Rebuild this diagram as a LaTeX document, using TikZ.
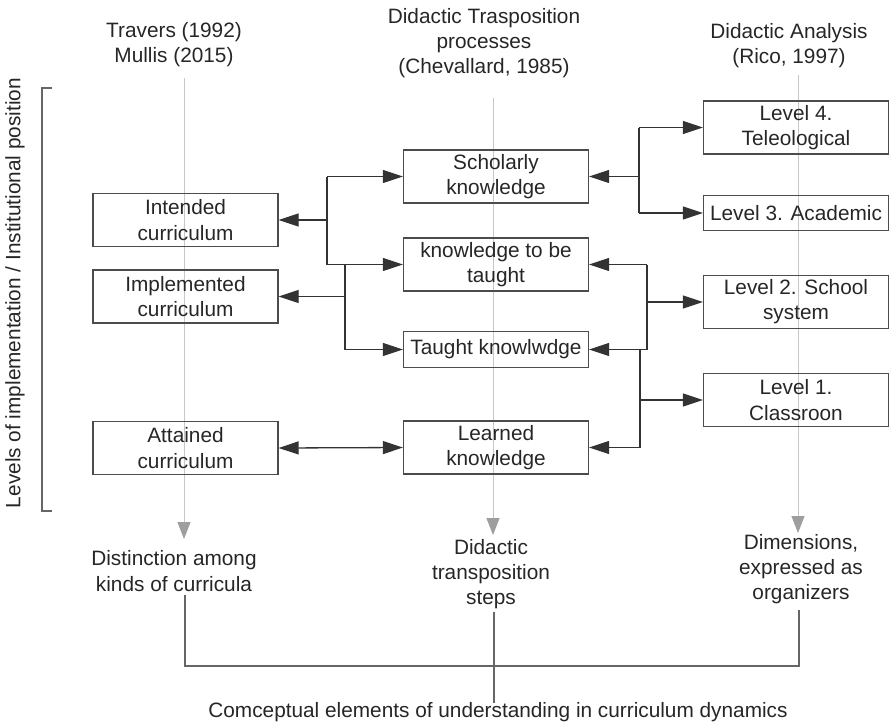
\documentclass[tikz,border=0pt]{standalone}
\usepackage{fontspec}
\setmainfont{Liberation Sans}
\usetikzlibrary{arrows.meta}
\begin{document}
\begin{tikzpicture}[x=0.5pt,y=-0.5pt,
  txt/.style={font=\fontsize{10.4}{12.6}\selectfont, text=black!85, align=center, inner sep=0pt},
  box/.style={txt, draw=black!70, line width=0.65pt, minimum width=92.5pt, minimum height=26.5pt},
  lowbox/.style={box, minimum height=17.75pt},
  con/.style={draw=black!80, line width=0.65pt},
  arr/.style={con, -{Triangle[length=10pt,width=6.5pt]}},
  darr/.style={con, {Triangle[length=10pt,width=6.5pt]}-{Triangle[length=10pt,width=6.5pt]}},
  gline/.style={draw=black!22, line width=0.5pt, -{Triangle[length=8.5pt,width=6.5pt,color=black!38]}},
  bline/.style={draw=black!60, line width=0.6pt}]
\useasboundingbox (0,0) rectangle (889,724);

% gray column lines
\coordinate (g1a) at (184,78);  \coordinate (g1b) at (184,539);
\coordinate (g2a) at (493,98);  \coordinate (g2b) at (493,535);
\coordinate (g3a) at (798,75);  \coordinate (g3b) at (798,533);
\draw[gline] (g1a) -- (g1b);
\draw[gline] (g2a) -- (g2b);
\draw[gline] (g3a) -- (g3b);

% headers
\node[txt] (h1) at (174,44.5) {Travers (1992)\\Mullis (2015)};
\node[txt] (h2) at (484,43) {Didactic Trasposition\\processes\\(Chevallard, 1985)};
\node[txt] (h3) at (789,46) {Didactic Analysis\\(Rico, 1997)};

% left column
\node[box] (int) at (185.5,220) {Intended\\curriculum};
\node[box] (imp) at (185.5,296.5) {Implemented\\curriculum};
\node[box] (att) at (185.5,448) {Attained\\curriculum};

% middle column
\node[box] (sch) at (496,176.5) {Scholarly\\knowledge};
\node[box] (ktb) at (496,264.5) {knowledge to be\\taught};
\node[lowbox] (tau) at (496,349.5) {Taught knowlwdge};
\node[box] (lrn) at (496,447.5) {Learned\\knowledge};

% right column
\node[box] (l4) at (796,127.5) {Level 4.\\Teleological};
\node[lowbox] (l3) at (796,213) {Level 3. Academic};
\node[box] (l2) at (796,302) {Level 2. School\\system};
\node[box] (l1) at (796,400) {Level 1.\\Classroon};

% left-middle connectors
\coordinate (j1) at (327,0);
\coordinate (j2) at (345,0);
\draw[con] (j1 |- sch.west) -- (j1 |- ktb.west);
\draw[arr] (j1 |- sch.west) -- (sch.west);
\draw[arr] (j1 |- ktb.west) -- (ktb.west);
\draw[arr] (j1 |- int.east) -- (int.east);
\draw[con] (j2 |- ktb.west) -- (j2 |- tau.west);
\draw[arr] (j2 |- tau.west) -- (tau.west);
\draw[arr] (j2 |- imp.east) -- (imp.east);
\draw[darr] (att.east) -- (lrn.west);

% middle-right connectors
\coordinate (j3) at (639,0);
\coordinate (j4) at (647,0);
\coordinate (j5) at (640,0);
\draw[con] (j3 |- l4.west) -- (j3 |- l3.west);
\draw[arr] (j3 |- l4.west) -- (l4.west);
\draw[arr] (j3 |- l3.west) -- (l3.west);
\draw[arr] (j3 |- sch.east) -- (sch.east);
\draw[con] (j4 |- ktb.east) -- (j4 |- tau.east);
\draw[arr] (j4 |- ktb.east) -- (ktb.east);
\draw[arr] (j4 |- tau.east) -- (tau.east);
\draw[arr] (j4 |- l2.west) -- (l2.west);
\draw[con] (j5 |- tau.east) -- (j5 |- lrn.east);
\draw[arr] (j5 |- lrn.east) -- (lrn.east);
\draw[arr] (j5 |- l1.west) -- (l1.west);

% left bracket and rotated label
\coordinate (bt) at (52,88); \coordinate (bb) at (52,511);
\draw[bline] (bt) -- (42,88) -- (42,511) -- (bb);
\node[txt, rotate=90] (lev) at (15,293) {Levels of implementation / Institutional position};

% bottom texts
\node[txt] (dist) at (174,571) {Distinction among\\kinds of curricula};
\node[txt] (dts) at (491,574) {Didactic\\transposition\\steps};
\node[txt] (dim) at (801,569) {Dimensions,\\expressed as\\organizers};
\node[txt] (conc) at (498,712) {Comceptual elements of understanding in curriculum dynamics};

% bottom bracket
\coordinate (b1) at (185,595); \coordinate (b2) at (494,612); \coordinate (b3) at (799,610);
\coordinate (bj) at (494,666); \coordinate (bc) at (494,703);
\draw[bline] (b1) -- (b1 |- bj) -- (b3 |- bj) -- (b3);
\draw[bline] (b2) -- (bc);
\end{tikzpicture}
\end{document}
